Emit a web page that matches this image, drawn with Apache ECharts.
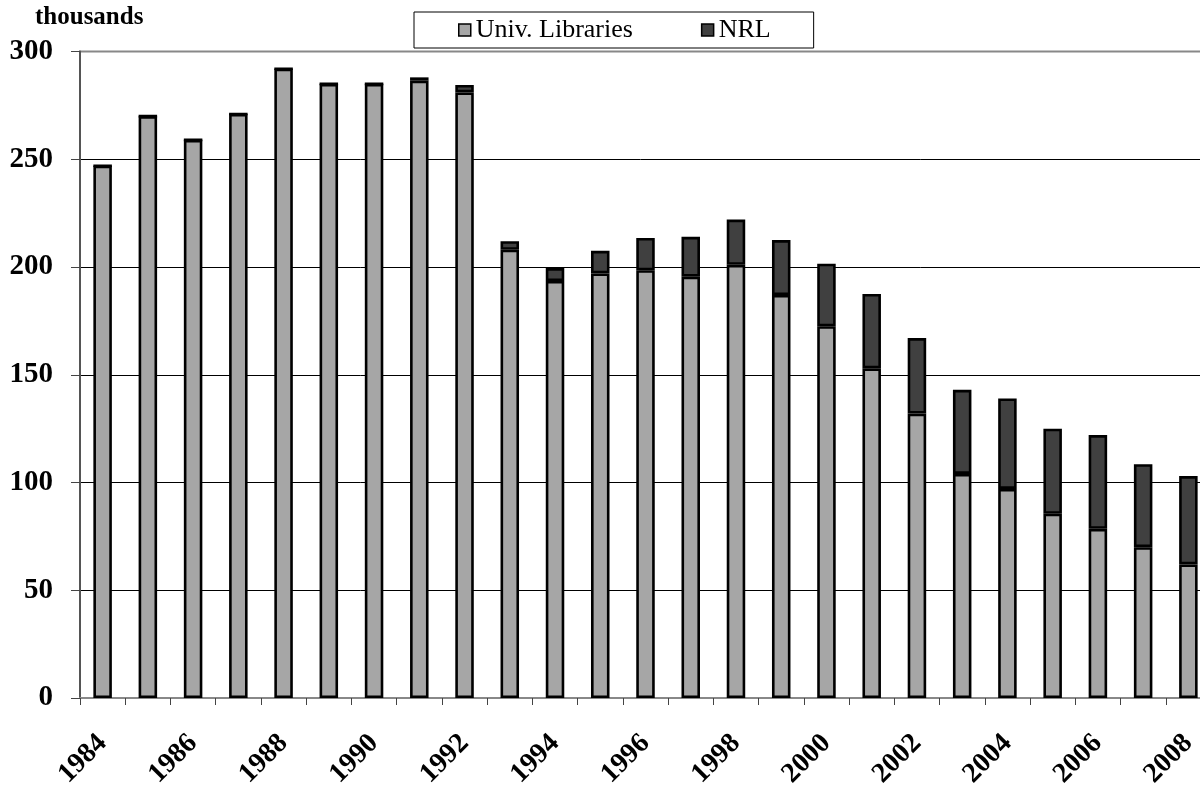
<!DOCTYPE html>
<html>
<head>
<meta charset="utf-8">
<script src="https://cdn.jsdelivr.net/npm/echarts@6/dist/echarts.min.js"></script>
<style>
html,body{margin:0;padding:0;background:#fff;}
#chart{width:1200px;height:786px;}
</style>
</head>
<body>
<div id="chart"></div>
<script>
const years = ['1984','1985','1986','1987','1988','1989','1990','1991','1992','1993','1994','1995','1996','1997','1998','1999','2000','2001','2002','2003','2004','2005','2006','2007','2008'];
const univLibraries = [247, 270, 259, 271, 292, 285, 285, 286.5, 281, 208, 193.5, 197, 198.5, 195.5, 201, 187, 172.5, 153, 132, 104, 97, 85.5, 78.5, 70, 62];
const nrl = [0, 0, 0, 0, 0, 0, 0, 1.5, 3.5, 4, 6, 10.5, 15, 18.5, 21, 25.5, 29, 34.5, 35, 39, 42, 39.5, 43.5, 38.5, 41];
const unitLabel = 'thousands';

const serif = '"Liberation Serif", "Times New Roman", serif';
const chart = echarts.init(document.getElementById('chart'), null, {renderer: 'canvas'});
chart.setOption({
  animation: false,
  backgroundColor: '#fff',
  graphic: [{
    type: 'text', left: 35, top: 5,
    style: {text: unitLabel, font: 'bold 25px ' + serif, fill: '#000'}
  }],
  legend: {
    left: 414, top: 12,
    padding: [5, 43, 5, 44],
    borderColor: '#000', borderWidth: 1, backgroundColor: '#fff',
    itemWidth: 12, itemHeight: 12, itemGap: 68,
    textStyle: {fontFamily: serif, fontSize: 26, color: '#000'},
    data: [
      {name: 'Univ. Libraries', icon: 'rect', itemStyle: {color: '#A6A6A6', borderColor: '#000', borderWidth: 1.5}},
      {name: 'NRL', icon: 'rect', itemStyle: {color: '#404040', borderColor: '#000', borderWidth: 1.5}}
    ]
  },
  grid: {left: 80, top: 51.5, right: -11, bottom: 88, show: true, borderColor: '#888', borderWidth: 2,
         containLabel: false, outerBoundsMode: 'none'},
  xAxis: {
    type: 'category', data: years,
    axisLine: {lineStyle: {color: '#888', width: 2}},
    axisTick: {show: true, interval: 0, length: 7, lineStyle: {color: '#444', width: 1}},
    axisLabel: {interval: 1, rotate: 45, margin: 41, fontFamily: serif, fontWeight: 'bold', fontSize: 28, color: '#000'}
  },
  yAxis: {
    type: 'value', min: 0, max: 300, interval: 50,
    axisLine: {show: true, lineStyle: {color: '#555', width: 2}},
    axisTick: {show: true, length: 9, lineStyle: {color: '#444', width: 1}},
    axisLabel: {margin: 27, fontFamily: serif, fontWeight: 'bold', fontSize: 29, color: '#000'},
    splitLine: {show: true, lineStyle: {color: ['#000','#000','#000','#000','#000','#000','rgba(0,0,0,0)'], width: 1}}
  },
  series: [
    {name: 'Univ. Libraries', type: 'bar', stack: 'total', data: univLibraries, barWidth: 18.5,
     itemStyle: {color: '#A6A6A6', borderColor: '#000', borderWidth: 2.6}},
    {name: 'NRL', type: 'bar', stack: 'total', data: nrl, barWidth: 18.5,
     itemStyle: {color: '#404040', borderColor: '#000', borderWidth: 2.6}}
  ]
});
</script>
</body>
</html>
